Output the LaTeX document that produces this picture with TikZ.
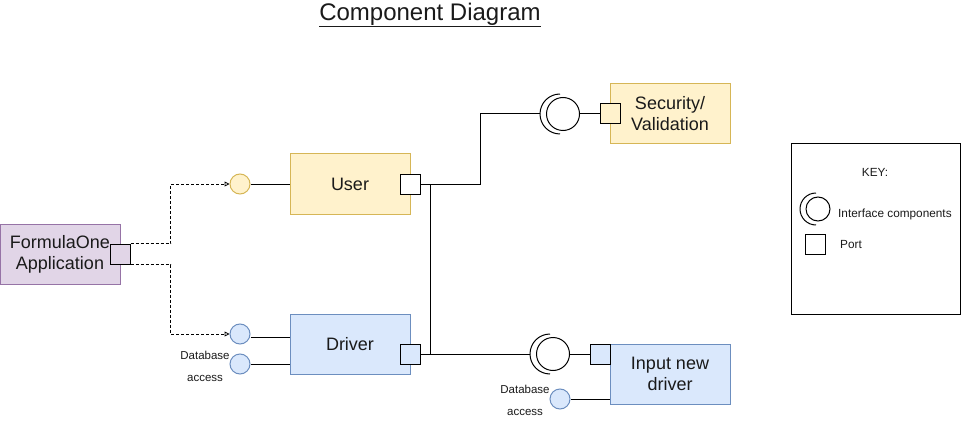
\documentclass[tikz,border=0pt]{standalone}
\usepackage{fontspec}
\setmainfont{Liberation Sans}
\usetikzlibrary{arrows.meta,calc}
\definecolor{purfill}{HTML}{E1D5E7}
\definecolor{purdraw}{HTML}{9673A6}
\definecolor{yelfill}{HTML}{FFF2CC}
\definecolor{yeldraw}{HTML}{D6B656}
\definecolor{blufill}{HTML}{DAE8FC}
\definecolor{bludraw}{HTML}{6C8EBF}
\definecolor{txt}{HTML}{1A1A1A}
\tikzset{
  comp/.style={draw, line width=1pt, minimum width=120pt, minimum height=60pt, inner sep=0pt, align=center, text=txt, font=\fontsize{18}{21}\selectfont},
  portbox/.style={draw=black, line width=1pt, minimum width=20pt, minimum height=20pt, inner sep=0pt},
  iface/.style={circle, draw, line width=1pt, minimum size=20pt, inner sep=0pt},
  ball/.style={circle, draw=black, line width=1pt, inner sep=0pt},
  conn/.style={draw=black, line width=1pt},
  dep/.style={draw=black, line width=0.8pt, dash pattern=on 3pt off 2pt, -{Triangle[open, length=5pt, width=5pt]}},
  small/.style={text=txt, font=\fontsize{11.5}{22}\selectfont, align=center, inner sep=0pt},
  keytext/.style={text=txt, font=\fontsize{11.8}{14}\selectfont, inner sep=0pt}
}
\begin{document}
\begin{tikzpicture}[x=1pt, y=-1pt]
\useasboundingbox (0,0) rectangle (961,425);
% title
\node[text=txt, font=\fontsize{24}{28}\selectfont, inner sep=0pt] (title) at (430,15) {\underline{Component Diagram}};
% FormulaOne
\node[comp, fill=purfill, draw=purdraw] (f1) at (60,254) {FormulaOne\\Application};
\node[portbox, fill=purfill] (f1port) at (120,254) {};
% User
\node[comp, fill=yelfill, draw=yeldraw] (user) at (350,184) {User};
\node[portbox, fill=white] (uport) at (410,184) {};
\node[iface, fill=yelfill, draw=yeldraw] (uc) at (240,184) {};
% Driver
\node[comp, fill=blufill, draw=bludraw] (driver) at (350,344) {Driver};
\node[portbox, fill=blufill] (dport) at (410,354) {};
\node[iface, fill=blufill, draw=bludraw] (dc1) at (240,334) {};
\node[iface, fill=blufill, draw=bludraw] (dc2) at (240,364) {};
\node[small] (dblab1) at (205,366) {Database\\access};
% Security
\node[comp, fill=yelfill, draw=yeldraw] (sec) at (670,114) {Security/\\Validation};
\node[portbox, fill=yelfill] (secport) at (610,114) {};
\node[ball, minimum size=33pt] (secball) at (563,114) {};
\draw[line width=1pt] ([xshift=-3pt]secball.center) ++(0pt,20pt) arc[start angle=90, end angle=270, radius=20pt] coordinate[pos=0.5] (secsock);
% Input new driver
\node[comp, fill=blufill, draw=bludraw] (inp) at (670,374) {Input new\\driver};
\node[portbox, fill=blufill] (inport) at (600,354) {};
\node[ball, minimum size=33pt] (inball) at (553,354) {};
\draw[line width=1pt] ([xshift=-3pt]inball.center) ++(0pt,20pt) arc[start angle=90, end angle=270, radius=20pt] coordinate[pos=0.5] (insock);
\node[iface, fill=blufill, draw=bludraw] (ic) at (560,399) {};
\node[small] (dblab2) at (525,400) {Database\\access};
% connectors
\draw[dep] (f1port.north east) -- ++(40,0) |- (uc.west);
\draw[dep] (f1port.south east) -- ++(40,0) |- (dc1.west);
\draw[conn] (uc.east) -- (user.west);
\draw[conn] ([yshift=-3pt]dc1.east) -- ([yshift=-3pt]dc1.east -| driver.west);
\draw[conn] (dc2.east) -- (dc2.east -| driver.west);
\coordinate (j1) at ($(uport.east)+(10,0)$);
\coordinate (j2) at ($(dport.east)+(10,0)$);
\draw[conn] (uport.east) -- ++(60,0) |- (secsock);
\draw[conn] (j1) -- (j2);
\draw[conn] (dport.east) -- (insock);
\draw[conn] (secball.east) -- (secport.west);
\draw[conn] (inball.east) -- (inport.west);
\draw[conn] (ic.east) -- (ic.east -| inp.west);
% key
\node[draw=black, line width=1pt, minimum width=169pt, minimum height=170pt, inner sep=0pt] (key) at (875.5,229) {};
\node[keytext] (keylab) at (875,172) {KEY:};
\node[ball, minimum size=24pt] (keyball) at (818,209) {};
\draw[line width=1pt] ([xshift=-2pt]keyball.center) ++(0pt,16pt) arc[start angle=90, end angle=270, radius=16pt];
\node[keytext, anchor=west] (keyiface) at (838,214) {Interface components};
\node[portbox, fill=white] (keyport) at (815,244) {};
\node[keytext, anchor=west] (keyportlab) at (840,244) {Port};
\end{tikzpicture}
\end{document}
